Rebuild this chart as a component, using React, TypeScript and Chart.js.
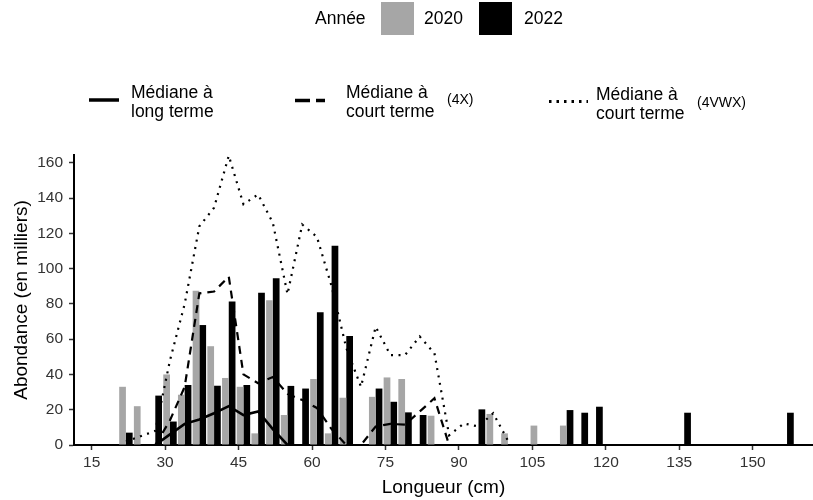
import React, { useEffect, useRef } from "react";
import { Chart, registerables } from "chart.js";

Chart.register(...registerables);

const FONT = "'Liberation Sans', Arial, Helvetica, sans-serif";

// Bars: length-class centres (cm) and abundance (thousands)
const lengths2020 = [22, 25, 31, 34, 37, 40, 43, 46, 49, 52, 55, 61, 64, 67, 73, 76, 79, 85, 97, 100, 106, 112];
const values2020 = [33, 22, 40, 28.5, 87.5, 56, 38, 33, 6.6, 82, 17, 37.4, 6.6, 26.8, 27.3, 38.3, 37.4, 16.6, 17.6, 6.6, 11, 11];

const lengths2022 = [22, 28, 31, 34, 37, 40, 43, 46, 49, 52, 55, 58, 61, 64, 67, 73, 76, 79, 82, 94, 112, 115, 118, 136, 157];
const values2022 = [7, 28, 13.3, 34, 68, 33.6, 81.3, 34, 86.3, 94.5, 33.5, 32, 75.2, 113, 61.8, 32, 24.5, 18.5, 17, 20.2, 19.8, 18.3, 21.7, 18.3, 18.3];

// Lines
const longTermX = [28, 31, 34, 37, 40, 43, 46, 49, 52, 55];
const longTermY = [0, 6, 12, 14.5, 18, 22, 17, 19, 9, 0];

const short4XX = [28, 31, 34, 37, 40, 43, 46, 49, 52, 55, 58, 61, 64, 67, 70, 73, 76, 79, 82, 85, 88];
const short4XY = [0, 14, 33, 86, 87, 95.5, 40, 35, 38.5, 29, 25.5, 21, 9, 0, 0, 10.5, 12, 11.5, 19, 26.5, 0];

const short4VWXX = [22, 25, 28, 31, 34, 37, 40, 43, 46, 49, 52, 55, 58, 61, 64, 67, 70, 73, 76, 79, 82, 85, 88, 91, 94, 97, 100];
const short4VWXY = [2, 5, 8, 48, 80, 124, 134.5, 164, 136.5, 142, 126, 85.5, 125, 118, 90, 55, 33, 67, 51, 51, 61.5, 52, 5.5, 12.2, 10.5, 18, 2.5];

const xTicks = [15, 30, 45, 60, 75, 90, 105, 120, 135, 150];
const yTicks = [0, 20, 40, 60, 80, 100, 120, 140, 160];

const X_MIN = 11.4;
const X_MAX = 162.3;
const Y_MAX = 164.4;

const GREY = "#a6a6a6";

const pts = (xs: number[], ys: number[]) => xs.map((x, i) => ({ x, y: ys[i] }));

export default function App() {
  const ref = useRef<HTMLCanvasElement>(null);

  useEffect(() => {
    document.body.style.margin = "0";
    Chart.defaults.font.family = FONT;
    const canvas = ref.current;
    if (!canvas) return;
    const chart = new Chart(canvas, {
      type: "bar",
      data: {
        datasets: [
          {
            type: "line",
            label: "Médiane à long terme",
            data: pts(longTermX, longTermY),
            borderColor: "#000",
            borderWidth: 2.6,
            pointRadius: 0,
            fill: false,
            tension: 0,
            order: 0,
          } as any,
          {
            type: "line",
            label: "Médiane à court terme (4X)",
            data: pts(short4XX, short4XY),
            borderColor: "#000",
            borderWidth: 2.2,
            borderDash: [8, 6],
            pointRadius: 0,
            fill: false,
            tension: 0,
            order: 0,
          } as any,
          {
            type: "line",
            label: "Médiane à court terme (4VWX)",
            data: pts(short4VWXX, short4VWXY),
            borderColor: "#000",
            borderWidth: 2.2,
            borderDash: [2, 5.5],
            pointRadius: 0,
            fill: false,
            tension: 0,
            order: 0,
          } as any,
          {
            type: "bar",
            label: "2020",
            data: pts(lengths2020, values2020),
            backgroundColor: GREY,
            categoryPercentage: 0.915,
            barPercentage: 1,
            order: 1,
          } as any,
          {
            type: "bar",
            label: "2022",
            data: pts(lengths2022, values2022),
            backgroundColor: "#000",
            categoryPercentage: 0.915,
            barPercentage: 1,
            order: 1,
          } as any,
        ],
      },
      options: {
        responsive: false,
        animation: false,
        devicePixelRatio: 1,
        layout: { padding: { top: 155, left: 0, right: 0, bottom: 0 } },
        plugins: {
          legend: { display: false },
          tooltip: { enabled: false },
        },
        scales: {
          x: {
            type: "linear",
            min: X_MIN,
            max: X_MAX,
            offset: false,
            afterBuildTicks: (s: any) => {
              s.ticks = xTicks.map((v) => ({ value: v }));
            },
            afterFit: (s: any) => {
              s.height = 55;
              s.paddingLeft = 0;
              s.paddingRight = 0;
            },
            grid: {
              display: true,
              offset: false,
              drawOnChartArea: false,
              drawTicks: true,
              tickLength: 5,
              tickColor: "#333",
              tickWidth: 1.5,
            },
            border: { display: true, color: "#000", width: 2 },
            ticks: {
              color: "#333",
              font: { size: 15.5, family: FONT },
              padding: 3,
              autoSkip: false,
              maxRotation: 0,
            },
            title: {
              display: true,
              text: "Longueur (cm)",
              color: "#000",
              font: { size: 19, family: FONT },
              padding: { top: 2, bottom: 1 },
            },
          } as any,
          y: {
            type: "linear",
            min: 0,
            max: Y_MAX,
            afterBuildTicks: (s: any) => {
              s.ticks = yTicks.map((v) => ({ value: v }));
            },
            afterFit: (s: any) => {
              s.width = 74;
              s.paddingTop = 0;
              s.paddingBottom = 0;
            },
            grid: {
              display: true,
              drawOnChartArea: false,
              drawTicks: true,
              tickLength: 5,
              tickColor: "#333",
              tickWidth: 1.5,
            },
            border: { display: true, color: "#000", width: 2 },
            ticks: {
              color: "#333",
              font: { size: 15.5, family: FONT },
              padding: 6,
            },
            title: {
              display: true,
              text: "Abondance (en milliers)",
              color: "#000",
              font: { size: 19, family: FONT },
              padding: { top: 10, bottom: 4 },
            },
          } as any,
        },
      },
    });
    return () => chart.destroy();
  }, []);

  const txt: React.CSSProperties = {
    position: "absolute",
    fontFamily: FONT,
    color: "#000",
    whiteSpace: "nowrap",
  };

  return (
    <div style={{ position: "relative", width: 813, height: 500, background: "#fff", overflow: "hidden" }}>
      <canvas ref={ref} width={813} height={500} style={{ position: "absolute", left: 0, top: 0, width: 813, height: 500 }} />

      {/* Year legend */}
      <div style={{ ...txt, left: 315, top: 2, fontSize: 17.5, lineHeight: "33px" }}>Année</div>
      <div style={{ position: "absolute", left: 381, top: 2, width: 33, height: 33, background: GREY }} />
      <div style={{ ...txt, left: 424, top: 2, fontSize: 17.5, lineHeight: "33px" }}>2020</div>
      <div style={{ position: "absolute", left: 479, top: 2, width: 33, height: 33, background: "#000" }} />
      <div style={{ ...txt, left: 524, top: 2, fontSize: 17.5, lineHeight: "33px" }}>2022</div>

      {/* Line legend */}
      <svg width={813} height={40} style={{ position: "absolute", left: 0, top: 80 }}>
        <line x1={89} y1={20} x2={119} y2={20} stroke="#000" strokeWidth={3.5} />
        <line x1={295} y1={20.5} x2={310} y2={20.5} stroke="#000" strokeWidth={3.5} />
        <line x1={316} y1={20.5} x2={325} y2={20.5} stroke="#000" strokeWidth={3.5} />
        <line x1={549} y1={21.5} x2={588} y2={21.5} stroke="#000" strokeWidth={3} strokeDasharray="2.5 5" />
      </svg>
      <div style={{ ...txt, left: 131, top: 83, fontSize: 17.5, lineHeight: "19px" }}>
        Médiane à
        <br />
        long terme
      </div>
      <div style={{ ...txt, left: 346, top: 83, fontSize: 17.5, lineHeight: "19px" }}>
        Médiane à
        <br />
        court terme
      </div>
      <div style={{ ...txt, left: 447, top: 91, fontSize: 14, lineHeight: "16px" }}>(4X)</div>
      <div style={{ ...txt, left: 596, top: 85, fontSize: 17.5, lineHeight: "19px" }}>
        Médiane à
        <br />
        court terme
      </div>
      <div style={{ ...txt, left: 697, top: 94, fontSize: 14, lineHeight: "16px" }}>(4VWX)</div>
    </div>
  );
}
